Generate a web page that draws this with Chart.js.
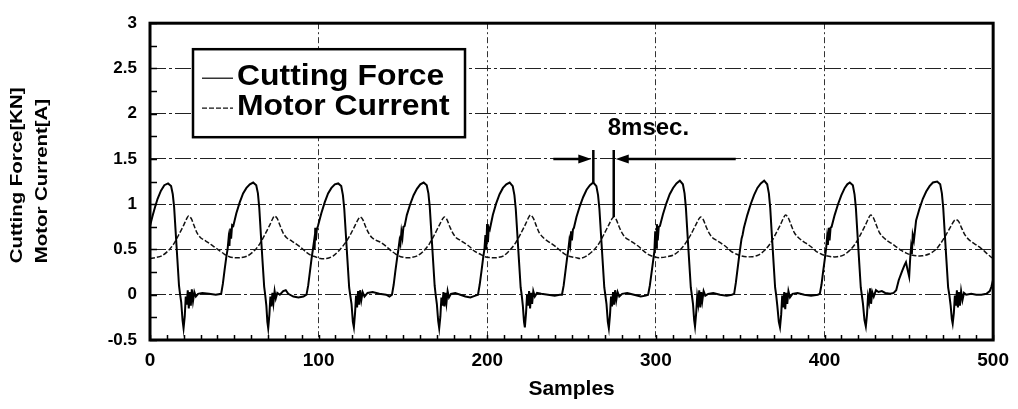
<!DOCTYPE html>
<html>
<head>
<meta charset="utf-8">
<title>Cutting Force / Motor Current</title>
<script src="https://cdn.jsdelivr.net/npm/chart.js@4.4.1/dist/chart.umd.min.js"></script>
<style>
    html, body { margin: 0; padding: 0; background: #fff; }
</style>
</head>
<body>
<canvas id="forceChart" width="1018" height="409"></canvas>
<script>
// Сила резания, [отсчёт, кН]
const cuttingForce = [
    [0, 0.76], [1.5, 0.87], [3, 0.97], [4.5, 1.06], [6.5, 1.15], [8.5, 1.21], [10.7, 1.23],
    [12.5, 1.2], [13.5, 1.11], [14.3, 0.97], [15.2, 0.7], [16.2, 0.4], [17.2, 0.1], [17.8, 0.01], [18.5, -0.08], [19.3, -0.28], [19.9, -0.37], [20.6, -0.24],
    [21.2, -0.02], [21.8, -0.11], [22.4, 0.05], [23, -0.15], [23.6, 0.03], [24.2, -0.12], [24.8, 0.06], [25.5, -0.07], [26.3, 0.03], [27.2, -0.02], [28.5, 0.01], [31, 0.02], [35, 0.01], [39, 0], [42.2, 0.01],
    [43.2, 0.12], [44.2, 0.27], [45.2, 0.41], [46, 0.5], [46.6, 0.62], [47.1, 0.54], [47.6, 0.73], [48.1, 0.62], [48.7, 0.77], [49.4, 0.76], [51.2, 0.9], [53.2, 1.02], [55.2, 1.12], [57.2, 1.18], [59.2, 1.22], [61.2, 1.24],
    [63, 1.21], [64, 1.12], [64.8, 0.96], [65.7, 0.68], [66.7, 0.38], [67.7, 0.09], [68.3, 0], [69, -0.12], [69.6, -0.3], [70.1, -0.37], [70.8, -0.22],
    [71.4, -0.02], [72, -0.13], [72.6, 0.02], [73.2, -0.09], [73.9, 0.04], [74.6, -0.04], [75.5, 0.02], [77, 0], [79, 0.04], [80.5, 0.05], [82, 0.01], [85, -0.02], [88, -0.03], [91, -0.02], [92.8, 0],
    [93.8, 0.1], [94.8, 0.25], [95.8, 0.4], [96.6, 0.5], [97.2, 0.58], [97.6, 0.5], [98, 0.74], [98.4, 0.6], [98.9, 0.72], [99.6, 0.76], [101.6, 0.9], [103.6, 1.02], [105.6, 1.12], [107.6, 1.18], [109.6, 1.22], [111.6, 1.23],
    [113.4, 1.2], [114.4, 1.1], [115.2, 0.95], [116.1, 0.68], [117.1, 0.38], [118.1, 0.08], [118.7, 0], [119.5, -0.1], [120.3, -0.3], [120.9, -0.36], [121.6, -0.2],
    [122.2, -0.01], [122.8, -0.14], [123.4, 0.04], [124, -0.11], [124.6, 0.05], [125.3, -0.06], [126.1, 0.03], [127.2, -0.02], [129, 0.02], [132, 0.03], [136, 0.01], [140, 0], [142, -0.02], [143.5, 0],
    [144.5, 0.11], [145.5, 0.26], [146.5, 0.4], [147.3, 0.5], [148, 0.6], [148.5, 0.56], [149.1, 0.7], [149.7, 0.63], [150.3, 0.75], [151, 0.76], [152.3, 0.88], [154.3, 1], [156.3, 1.1], [158.3, 1.17], [160.3, 1.22], [162.3, 1.24],
    [164.1, 1.21], [165.1, 1.12], [165.9, 0.97], [166.8, 0.7], [167.8, 0.4], [168.8, 0.1], [169.4, 0], [170.1, -0.1], [170.9, -0.29], [171.5, -0.37], [172.2, -0.24],
    [172.8, -0.03], [173.4, -0.12], [174, 0.03], [174.6, -0.13], [175.2, 0.02], [175.8, -0.09], [176.5, 0.04], [177.3, -0.03], [178.5, 0.01], [181, 0.02], [184, 0], [187, -0.02], [190, -0.03], [193, -0.01], [194.5, 0],
    [195.5, 0.11], [196.5, 0.25], [197.5, 0.4], [198.3, 0.5], [198.9, 0.66], [199.4, 0.5], [199.9, 0.78], [200.4, 0.58], [200.9, 0.74], [201.5, 0.72], [203.3, 0.88], [205.3, 1.01], [207.3, 1.11], [209.3, 1.18], [211.3, 1.22], [213.3, 1.24],
    [215.1, 1.2], [216.1, 1.1], [216.9, 0.95], [217.8, 0.68], [218.8, 0.38], [219.8, 0.08], [220.4, 0], [221.1, -0.12], [221.8, -0.3], [222.3, -0.36], [223, -0.2],
    [223.6, 0], [224.2, -0.12], [224.8, 0.04], [225.4, -0.15], [226, 0.02], [226.6, -0.1], [227.3, 0.04], [228.2, -0.02], [229.5, 0.02], [232, 0.01], [236, 0], [240, -0.01], [243, 0], [244.3, 0],
    [245.3, 0.1], [246.3, 0.25], [247.3, 0.4], [248.1, 0.5], [248.7, 0.6], [249.2, 0.55], [249.7, 0.7], [250.2, 0.6], [250.8, 0.72], [251.4, 0.74], [252.9, 0.86], [254.9, 0.98], [256.9, 1.08], [258.9, 1.16], [260.9, 1.21], [262.9, 1.24],
    [264.7, 1.2], [265.7, 1.1], [266.5, 0.95], [267.4, 0.68], [268.4, 0.38], [269.4, 0.08], [270, 0], [270.7, -0.1], [271.5, -0.3], [272.1, -0.37], [272.8, -0.22],
    [273.4, -0.02], [274, -0.13], [274.6, 0.03], [275.2, -0.11], [275.8, 0.05], [276.5, -0.06], [277.3, 0.03], [278.3, -0.02], [280, 0.01], [283, 0.02], [287, 0], [291, -0.02], [294, -0.01], [295.4, 0],
    [296.4, 0.1], [297.4, 0.24], [298.4, 0.38], [299.1, 0.48], [299.6, 0.7], [300.1, 0.52], [300.6, 0.78], [301.1, 0.6], [301.7, 0.75], [302.4, 0.76], [304.2, 0.89], [306.2, 1.01], [308.2, 1.11], [310.2, 1.18], [312.2, 1.23], [314.2, 1.26],
    [316, 1.22], [317, 1.12], [317.8, 0.96], [318.7, 0.68], [319.7, 0.38], [320.7, 0.08], [321.3, 0], [322, -0.1], [322.7, -0.28], [323.2, -0.35], [323.9, -0.2],
    [324.5, -0.02], [325.1, -0.1], [325.7, 0.05], [326.3, -0.14], [326.9, 0.03], [327.5, -0.07], [328.3, 0.04], [329.3, -0.01], [331, 0.01], [334, 0.02], [338, 0], [342, -0.01], [345, 0], [346.4, 0.01],
    [347.4, 0.13], [348.4, 0.28], [349.4, 0.43], [350.2, 0.54], [350.8, 0.62], [351.4, 0.66], [352.2, 0.74], [354.2, 0.88], [356.2, 1], [358.2, 1.1], [360.2, 1.18], [362.2, 1.23], [364.2, 1.26],
    [366, 1.22], [367, 1.12], [367.8, 0.96], [368.7, 0.68], [369.7, 0.38], [370.7, 0.08], [371.3, 0], [372, -0.12], [372.9, -0.3], [373.6, -0.36], [374.3, -0.22],
    [374.9, -0.01], [375.5, -0.14], [376.1, 0.03], [376.7, -0.16], [377.3, 0.02], [377.9, -0.1], [378.6, 0.04], [379.5, -0.03], [381, 0.01], [384, 0.02], [388, 0], [392, -0.01], [396, 0], [397.2, 0.01],
    [398.2, 0.11], [399.2, 0.26], [400.2, 0.4], [401, 0.52], [401.5, 0.63], [402, 0.55], [402.5, 0.74], [403, 0.6], [403.6, 0.74], [404.2, 0.75], [406, 0.88], [408, 1], [410, 1.1], [412, 1.18], [413.5, 1.22], [415, 1.24],
    [416.8, 1.21], [417.8, 1.11], [418.6, 0.96], [419.5, 0.68], [420.5, 0.38], [421.5, 0.08], [422.1, 0], [422.8, -0.1], [423.7, -0.28], [424.5, -0.35], [425.2, -0.22],
    [425.8, -0.02], [426.4, -0.08], [427, 0.07], [427.6, -0.1], [428.3, 0.03], [429.2, -0.02], [430.5, 0.05], [432, 0.03], [434, 0.04], [436, 0.02], [439, 0.01], [441, 0.02], [442.5, 0.05],
    [444, 0.16], [446, 0.26], [447.5, 0.33], [448.3, 0.36], [449.2, 0.28], [450.2, 0.2], [450.8, 0.4], [451.3, 0.52], [451.8, 0.45], [452.3, 0.66], [453, 0.6], [454.3, 0.82], [456.3, 0.95], [458.3, 1.06], [460.3, 1.14], [462.3, 1.2], [464.3, 1.24], [466.8, 1.25],
    [468.6, 1.22], [469.6, 1.12], [470.4, 0.96], [471.3, 0.68], [472.3, 0.38], [473.3, 0.08], [474, 0], [474.8, -0.12], [475.5, -0.27], [476, -0.32], [476.7, -0.2],
    [477.3, -0.01], [477.9, -0.12], [478.5, 0.05], [479.1, -0.14], [479.7, 0.03], [480.3, -0.12], [481, 0.04], [481.8, -0.06], [482.7, 0.02], [484, 0], [487, 0.01], [490, 0], [493, 0], [496, 0.01], [498, 0.04], [499, 0.09], [500, 0.17]
];

// Ток двигателя, [отсчёт, А]
const motorCurrent = [
    [0, 0.4], [3, 0.41], [7, 0.43], [11, 0.49], [14, 0.56], [17, 0.66], [20, 0.77], [22, 0.85], [23, 0.87], [24.5, 0.84], [26, 0.77], [28, 0.68], [30, 0.63], [32.5, 0.6], [35, 0.57], [38, 0.53], [41, 0.49], [44, 0.45], [47, 0.42], [50, 0.41],
    [54, 0.41], [58, 0.43], [62, 0.49], [65, 0.56], [68, 0.66], [71, 0.77], [73, 0.85], [74, 0.87], [75.5, 0.84], [77, 0.77], [79, 0.68], [81, 0.63], [83.5, 0.6], [86, 0.57], [89, 0.53], [92, 0.48], [95, 0.44], [98, 0.42], [101, 0.4],
    [104.7, 0.4], [108.7, 0.43], [112.7, 0.5], [115.7, 0.57], [118.7, 0.66], [121.7, 0.77], [123.7, 0.84], [124.7, 0.86], [126.2, 0.83], [127.7, 0.76], [129.7, 0.68], [131.7, 0.63], [134.2, 0.6], [136.7, 0.58], [139.7, 0.54], [142.7, 0.49], [145.7, 0.45], [148.7, 0.42], [151.7, 0.41],
    [154.6, 0.41], [158.6, 0.43], [162.6, 0.49], [165.6, 0.56], [168.6, 0.66], [171.6, 0.77], [173.6, 0.84], [174.6, 0.86], [176.1, 0.83], [177.6, 0.76], [179.6, 0.68], [181.6, 0.63], [184.1, 0.6], [186.6, 0.57], [189.6, 0.53], [192.6, 0.48], [195.6, 0.45], [198.6, 0.42], [201.6, 0.41],
    [205.7, 0.41], [209.7, 0.43], [213.7, 0.5], [216.7, 0.57], [219.7, 0.67], [222.7, 0.78], [224.7, 0.86], [225.7, 0.88], [227.2, 0.85], [228.7, 0.78], [230.7, 0.69], [232.7, 0.64], [235.2, 0.6], [237.7, 0.57], [240.7, 0.53], [243.7, 0.48], [246.7, 0.44], [249.7, 0.42], [252.7, 0.41],
    [255, 0.4], [259, 0.43], [263, 0.49], [266, 0.56], [269, 0.66], [272, 0.77], [274, 0.84], [275, 0.86], [276.5, 0.83], [278, 0.76], [280, 0.68], [282, 0.63], [284.5, 0.6], [287, 0.57], [290, 0.53], [293, 0.48], [296, 0.44], [299, 0.42], [302, 0.41],
    [306.6, 0.42], [310.6, 0.44], [314.6, 0.5], [317.6, 0.57], [320.6, 0.66], [323.6, 0.77], [325.6, 0.84], [326.6, 0.86], [328.1, 0.83], [329.6, 0.76], [331.6, 0.68], [333.6, 0.63], [336.1, 0.6], [338.6, 0.57], [341.6, 0.53], [344.6, 0.48], [347.6, 0.45], [350.6, 0.43], [353.6, 0.42],
    [357, 0.42], [361, 0.44], [365, 0.5], [368, 0.57], [371, 0.67], [374, 0.78], [376, 0.86], [377, 0.88], [378.5, 0.85], [380, 0.78], [382, 0.69], [384, 0.64], [386.5, 0.6], [389, 0.57], [392, 0.53], [395, 0.48], [398, 0.45], [401, 0.43], [404, 0.42],
    [407.5, 0.42], [411.5, 0.44], [415.5, 0.5], [418.5, 0.57], [421.5, 0.67], [424.5, 0.78], [426.5, 0.86], [427.5, 0.88], [429, 0.85], [430.5, 0.78], [432.5, 0.69], [434.5, 0.64], [437, 0.6], [439.5, 0.57], [442.5, 0.53], [445.5, 0.49], [448.5, 0.46], [451.5, 0.44], [454.5, 0.43],
    [458, 0.43], [462, 0.45], [466, 0.5], [469, 0.57], [472, 0.66], [475, 0.76], [477, 0.82], [478, 0.83], [479.5, 0.81], [481, 0.75], [483, 0.67], [485, 0.62], [487.5, 0.58], [490, 0.55], [493, 0.51], [496, 0.46], [498.5, 0.42], [500, 0.4]
];

const seriesLabels = ['Cutting Force', 'Motor Current'];
const xTitle = 'Samples';
const yTitle = ['Cutting Force[KN]', 'Motor Current[A]'];

// Оси: засечки каждые 10 отсчётов / 0.25, подписи каждые 100 / 0.5
const xRange = [0, 500];
const xTickStep = 10;
const xLabelStep = 100;
const yRange = [-0.5, 3];
const yTickStep = 0.25;
const yLabelStep = 0.5;

// Отметка периода между пиками силы и тока
const periodFrom = 262.9;
const periodTo = 275;
const periodLevel = 1.5;
const periodLabel = '8msec.';

const FONT = "'Liberation Sans', Arial, Helvetica, sans-serif";

function isMultiple(value, step) {
    const k = value / step;
    return Math.abs(k - Math.round(k)) < 1e-6;
}

function valueAt(series, x) {
    const p = series.find(d => d[0] === x);
    return p ? p[1] : 0;
}

function arrowHead(ctx, x, y, dir) {
    ctx.beginPath();
    ctx.moveTo(x, y);
    ctx.lineTo(x - dir * 13, y - 4.5);
    ctx.lineTo(x - dir * 13, y + 4.5);
    ctx.closePath();
    ctx.fill();
}

/**
 * Рамка, внутренние засечки, легенда, отметка периода и подпись оси Y
 */
const paperPlugin = {
    id: 'paper',
    afterDatasetsDraw(chart) {
        const { ctx, chartArea: a, scales: { x, y } } = chart;
        ctx.save();
        ctx.strokeStyle = '#000';
        ctx.fillStyle = '#000';

        // засечки внутрь
        ctx.lineWidth = 1.5;
        ctx.beginPath();
        x.ticks.forEach(t => {
            const px = Math.round(x.getPixelForValue(t.value)) + 0.5;
            ctx.moveTo(px, a.bottom);
            ctx.lineTo(px, a.bottom - 5);
        });
        y.ticks.forEach(t => {
            const py = Math.round(y.getPixelForValue(t.value)) + 0.5;
            ctx.moveTo(a.left, py);
            ctx.lineTo(a.left + 7, py);
        });
        ctx.stroke();

        // рамка
        ctx.lineWidth = 3;
        ctx.strokeRect(a.left, a.top, a.right - a.left, a.bottom - a.top);

        // легенда в рамке
        const bx = a.left + 43, by = a.top + 26, bw = 272, bh = 88;
        ctx.fillStyle = '#fff';
        ctx.fillRect(bx, by, bw, bh);
        ctx.lineWidth = 2.5;
        ctx.strokeRect(bx, by, bw, bh);
        ctx.fillStyle = '#000';
        ctx.font = `bold 29px ${FONT}`;
        ctx.textBaseline = 'alphabetic';
        ctx.textAlign = 'left';
        chart.data.datasets.forEach((ds, i) => {
            const rowY = by + 29 + i * 30;
            ctx.save();
            ctx.strokeStyle = ds.borderColor;
            ctx.lineWidth = 1.2;
            ctx.setLineDash(ds.borderDash || []);
            ctx.beginPath();
            ctx.moveTo(bx + 9, rowY);
            ctx.lineTo(bx + 40, rowY);
            ctx.stroke();
            ctx.restore();
            ctx.save();
            ctx.translate(bx + 44, rowY + 7);
            ctx.scale(1.1, 1);
            ctx.fillText(ds.label, 0, 0);
            ctx.restore();
        });

        // отметка 8 мс
        const x1 = x.getPixelForValue(periodFrom);
        const x2 = x.getPixelForValue(periodTo);
        const yArrow = Math.round(y.getPixelForValue(periodLevel));
        const yTop = y.getPixelForValue(periodLevel + 0.1);
        ctx.lineWidth = 2.5;
        ctx.beginPath();
        ctx.moveTo(x1, yTop);
        ctx.lineTo(x1, y.getPixelForValue(valueAt(cuttingForce, periodFrom)));
        ctx.moveTo(x2, yTop);
        ctx.lineTo(x2, y.getPixelForValue(valueAt(motorCurrent, periodTo)));
        ctx.moveTo(x1 - 40, yArrow);
        ctx.lineTo(x1 - 10, yArrow);
        ctx.moveTo(x2 + 10, yArrow);
        ctx.lineTo(x2 + 122, yArrow);
        ctx.stroke();
        arrowHead(ctx, x1 - 2, yArrow, 1);
        arrowHead(ctx, x2 + 2, yArrow, -1);
        ctx.font = `bold 24px ${FONT}`;
        ctx.fillText(periodLabel, x2 - 6, y.getPixelForValue(1.77));

        // подпись оси Y в две строки
        ctx.font = `bold 17px ${FONT}`;
        yTitle.forEach((t, i) => {
            ctx.save();
            ctx.translate(22 + i * 25, a.top + 240);
            ctx.rotate(-Math.PI / 2);
            ctx.scale(1.2, 1);
            ctx.fillText(t, 0, 0);
            ctx.restore();
        });
        ctx.restore();
    }
};

const toPoints = series => series.map(d => ({ x: d[0], y: d[1] }));

const ctx = document.getElementById('forceChart');
const chart = new Chart(ctx, {
    type: 'line',
    data: {
        datasets: [{
            label: seriesLabels[0],
            data: toPoints(cuttingForce),
            borderColor: '#000',
            borderWidth: 2,
            pointRadius: 0,
            tension: 0
        }, {
            label: seriesLabels[1],
            data: toPoints(motorCurrent),
            borderColor: '#111',
            borderWidth: 1.5,
            borderDash: [5, 2],
            pointRadius: 0,
            tension: 0.3
        }]
    },
    options: {
        responsive: false,
        animation: false,
        devicePixelRatio: 1,
        layout: { padding: { left: 0, top: 13, right: 24, bottom: 0 } },
        plugins: {
            legend: { display: false },
            tooltip: { enabled: false }
        },
        scales: {
            x: {
                type: 'linear',
                min: xRange[0],
                max: xRange[1],
                afterFit: scale => { scale.height = 69; },
                border: { display: false, dash: [6, 3, 2, 3] },
                grid: {
                    drawTicks: false,
                    lineWidth: 1,
                    color: c => (c.tick && isMultiple(c.tick.value, xLabelStep) &&
                        c.tick.value > xRange[0] && c.tick.value < xRange[1]) ? '#333' : 'rgba(0,0,0,0)'
                },
                ticks: {
                    stepSize: xTickStep,
                    autoSkip: false,
                    maxRotation: 0,
                    padding: 9,
                    color: '#000',
                    font: { family: FONT, size: 19, weight: 'bold' },
                    callback: v => isMultiple(v, xLabelStep) ? String(v) : ''
                },
                title: {
                    display: true,
                    text: xTitle,
                    color: '#000',
                    font: { family: FONT, size: 21, weight: 'bold' },
                    padding: { top: 0, bottom: 7 }
                }
            },
            y: {
                min: yRange[0],
                max: yRange[1],
                afterFit: scale => { scale.width = 150; },
                border: { display: false, dash: [16, 3, 3, 3] },
                grid: {
                    drawTicks: false,
                    lineWidth: 1,
                    color: c => (c.tick && isMultiple(c.tick.value, yLabelStep) &&
                        c.tick.value > yRange[0] && c.tick.value < yRange[1]) ? '#222' : 'rgba(0,0,0,0)'
                },
                ticks: {
                    stepSize: yTickStep,
                    autoSkip: false,
                    padding: 13,
                    color: '#000',
                    font: { family: FONT, size: 17, weight: 'bold' },
                    callback: v => isMultiple(v, yLabelStep) ? String(+v.toFixed(2)) : ''
                }
            }
        }
    },
    plugins: [paperPlugin]
});
</script>
</body>
</html>
